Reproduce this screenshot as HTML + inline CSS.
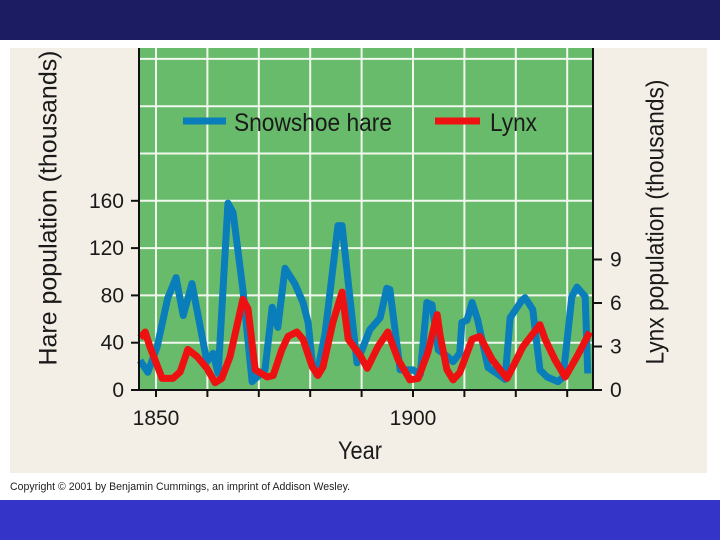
<!DOCTYPE html>
<html><head><meta charset="utf-8"><style>
body{margin:0;width:720px;height:540px;overflow:hidden;background:#fff;font-family:"Liberation Sans Narrow","Liberation Sans",sans-serif}
svg{display:block}
</style></head><body>
<svg id="chart" width="720" height="540" viewBox="0 0 720 540" xmlns="http://www.w3.org/2000/svg">
<rect x="0" y="0" width="720" height="40" fill="#1c1c63"/>
<rect x="0" y="500" width="720" height="40" fill="#3434c8"/>
<rect x="10" y="48" width="697" height="425" fill="#f4efe6"/>
<rect x="139" y="48" width="454" height="342" fill="#68bb6b"/>
<g id="grid"></g>
<g id="series"></g>
<line x1="139" y1="48" x2="139" y2="391" stroke="#111" stroke-width="2"/>
<line x1="593" y1="48" x2="593" y2="391" stroke="#111" stroke-width="2"/>
<line x1="138" y1="390" x2="594" y2="390" stroke="#111" stroke-width="2"/>
<g id="axes" font-size="21" fill="#1a1a1a"></g>
<text x="50" y="208" font-size="25" fill="#1a1a1a" text-anchor="middle" textLength="315" lengthAdjust="spacingAndGlyphs" transform="rotate(-90 50 208)" dominant-baseline="middle">Hare population (thousands)</text>
<text x="657" y="222" font-size="25" fill="#1a1a1a" text-anchor="middle" textLength="285" lengthAdjust="spacingAndGlyphs" transform="rotate(-90 657 222)" dominant-baseline="middle">Lynx population (thousands)</text>
<text x="360" y="459" font-size="25" fill="#1a1a1a" text-anchor="middle" textLength="44" lengthAdjust="spacingAndGlyphs">Year</text>
<g>
<line x1="183" y1="121" x2="226" y2="121" stroke="#0a7dbb" stroke-width="7"/>
<text x="234" y="131" font-size="25" fill="#1a1a1a" textLength="158" lengthAdjust="spacingAndGlyphs">Snowshoe hare</text>
<line x1="435" y1="121" x2="480" y2="121" stroke="#ee1111" stroke-width="7"/>
<text x="490" y="131" font-size="25" fill="#1a1a1a" textLength="47" lengthAdjust="spacingAndGlyphs">Lynx</text>
</g>
<text x="10" y="490" font-size="11" fill="#222" textLength="340" lengthAdjust="spacingAndGlyphs" font-family="Liberation Sans, sans-serif">Copyright © 2001 by Benjamin Cummings, an imprint of Addison Wesley.</text>
</svg>
<script>
const hareYears=[1846.9,1848.4,1850.2,1852.3,1853.9,1855.3,1857.0,1859.9,1861.1,1862.1,1864.0,1865.0,1866.9,1868.7,1871.2,1872.6,1873.7,1875.1,1877.0,1878.6,1879.6,1880.4,1881.3,1882.9,1885.4,1886.2,1889.1,1891.6,1893.6,1894.9,1895.5,1897.5,1900.0,1901.4,1902.7,1903.7,1904.9,1906.8,1907.8,1909.1,1909.5,1910.5,1911.5,1912.6,1914.6,1916.3,1917.9,1918.9,1921.2,1921.8,1923.3,1924.7,1926.1,1928.2,1929.2,1930.9,1931.9,1933.5,1934.0];
const hareValues=[25,15,36,78,95,63,90,24,31,14,158,150,85,7,17,70,53,103,90,74,57,23,13,48,139,139,23,51,61,86,85,17,17,13,74,72,34,28,24,31,57,59,74,59,19,14,9,61,76,78,68,17,11,7,11,79,87,79,14];
const lynxYears=[1846.9,1847.9,1848.8,1851.2,1853.3,1854.7,1856.2,1858.0,1859.9,1861.5,1862.8,1864.4,1866.9,1867.9,1869.3,1871.6,1872.8,1874.5,1875.7,1877.4,1878.6,1880.4,1881.5,1882.5,1884.4,1886.2,1887.4,1889.7,1891.1,1893.2,1895.1,1897.1,1899.4,1901.0,1902.9,1904.7,1905.3,1906.6,1907.8,1909.1,1911.5,1913.0,1915.4,1916.5,1918.3,1921.4,1924.7,1925.7,1927.6,1929.6,1931.9,1934.4];
const lynxValues=[3.6,4.0,3.0,0.8,0.8,1.25,2.8,2.3,1.5,0.5,0.8,2.3,6.25,5.6,1.4,0.9,1.0,2.8,3.7,4.0,3.5,1.6,1.0,1.6,4.65,6.75,3.5,2.4,1.5,3.0,4.0,2.1,0.7,0.8,2.6,5.2,3.7,1.4,0.7,1.2,3.5,3.7,2.1,1.6,0.8,3.0,4.5,3.5,2.1,0.9,2.3,4.0];
const hareTicks=[0,40,80,120,160];
const lynxTicks=[0,3,6,9];
const yearTicks=[1850,1860,1870,1880,1890,1900,1910,1920,1930];
const yearLabels=[1850,1900];

const NS="http://www.w3.org/2000/svg";
const xS=y=>156+(y-1850)*5.14;
const yH=v=>390-v*47.3/40;
const yL=v=>390-v*43.5/3;
function mk(tag,attrs,parent){const e=document.createElementNS(NS,tag);for(const k in attrs)e.setAttribute(k,attrs[k]);parent.appendChild(e);return e;}
const grid=document.getElementById('grid'),axes=document.getElementById('axes'),series=document.getElementById('series');
for(let v=40;v<=280;v+=40){const y=yH(v);if(y<49)break;
 const l=mk('line',{x1:139,x2:593,y1:y,y2:y,stroke:'#f2f7ee','stroke-width':2},grid);
 
 }
for(let yr=1850;yr<=1930;yr+=10){const x=xS(yr);
 const l=mk('line',{x1:x,x2:x,y1:48,y2:390,stroke:'#f2f7ee','stroke-width':2},grid);
 
 }
hareTicks.forEach(v=>{const y=yH(v);
 const t=mk('line',{x1:131,x2:139,y1:y,y2:y,stroke:'#111','stroke-width':2},axes);
 
 
 const tx=mk('text',{x:124,y:y+7,'text-anchor':'end'},axes);tx.textContent=v;
 
 });
lynxTicks.forEach(v=>{const y=yL(v);
 const t=mk('line',{x1:593,x2:602,y1:y,y2:y,stroke:'#111','stroke-width':2},axes);
 
 
 const tx=mk('text',{x:610,y:y+7},axes);tx.textContent=v;
 
 });
yearTicks.forEach(yr=>{const x=xS(yr);
 const t=mk('line',{x1:x,x2:x,y1:390,y2:397,stroke:'#111','stroke-width':2},axes);
 
 });
yearLabels.forEach(yr=>{const tx=mk('text',{x:xS(yr),y:425,'text-anchor':'middle'},axes);tx.textContent=yr;
 
 });
const hp=mk('polyline',{points:hareYears.map((y,i)=>xS(y)+','+yH(hareValues[i])).join(' '),fill:'none',stroke:'#0a7dbb','stroke-width':7,'stroke-linejoin':'round'},series);


const lp=mk('polyline',{points:lynxYears.map((y,i)=>xS(y)+','+yL(lynxValues[i])).join(' '),fill:'none',stroke:'#ee1111','stroke-width':7,'stroke-linejoin':'round'},series);


</script>
</body></html>
